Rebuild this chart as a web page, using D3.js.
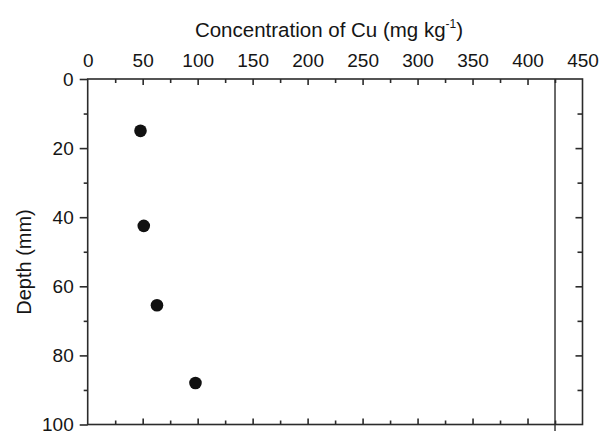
<!DOCTYPE html>
<html>
<head>
<meta charset="utf-8">
<script src="https://cdn.jsdelivr.net/npm/d3@7"></script>
<style>
  html, body { margin: 0; padding: 0; background: #fff; }
  svg { display: block; }
  text { font-family: "Liberation Sans", Arial, Helvetica, sans-serif; fill: #151515; }
</style>
</head>
<body>
<svg id="chart" width="600" height="431"></svg>
<script>
// Cu concentration profile with depth
const depths = [15, 42.5, 65.5, 88];          // mm
const concentrations = [48, 51, 63, 98];      // mg kg-1
const limitValue = 425;                       // vertical reference line, mg kg-1

const xTicks = [0, 50, 100, 150, 200, 250, 300, 350, 400, 450];
const yTicks = [0, 20, 40, 60, 80, 100];
const xMinorTicks = d3.range(25, 450, 50);
const yMinorTicks = d3.range(10, 100, 20);

const W = 600, H = 431;
const margin = { left: 87.7, right: W - 582.5, top: 79, bottom: H - 424.5 };

const svg = d3.select("#chart");
const x = d3.scaleLinear().domain([0, 450]).range([margin.left, W - margin.right]);
const y = d3.scaleLinear().domain([0, 100]).range([margin.top, H - margin.bottom]);

const axisColor = "#2b2b2b";
const fontSize = 19;

function styleAxis(g) {
  g.select(".domain").remove();
  g.selectAll(".tick line").attr("stroke", axisColor).attr("stroke-width", 1.6);
  g.selectAll(".tick text").attr("font-size", fontSize).attr("fill", "#151515")
    .attr("font-family", '"Liberation Sans", Arial, sans-serif');
}

// Top axis: labels above, ticks pointing into the plot
const topAxis = svg.append("g").attr("transform", `translate(0,${y(0)})`)
  .call(d3.axisTop(x).tickValues(xTicks).tickSize(-6).tickPadding(12.5).tickFormat(d3.format("d")));
styleAxis(topAxis);
topAxis.selectAll(".tick line").filter(d => d === 0 || d === 450).remove();
svg.append("g").attr("transform", `translate(0,${y(0)})`)
  .call(d3.axisTop(x).tickValues(xMinorTicks).tickSize(-4).tickFormat(""))
  .call(styleAxis);

// Bottom axis: ticks pointing up, no labels
svg.append("g").attr("transform", `translate(0,${y(100)})`)
  .call(d3.axisBottom(x).tickValues(xTicks.filter(d => d > 0 && d < 450)).tickSize(-6).tickFormat(""))
  .call(styleAxis);
svg.append("g").attr("transform", `translate(0,${y(100)})`)
  .call(d3.axisBottom(x).tickValues(xMinorTicks).tickSize(-4).tickFormat(""))
  .call(styleAxis);

// Left axis: labelled, ticks pointing outward
svg.append("g").attr("transform", `translate(${x(0)},0)`)
  .call(d3.axisLeft(y).tickValues(yTicks).tickSize(8).tickPadding(6).tickFormat(d3.format("d")))
  .call(styleAxis);
svg.append("g").attr("transform", `translate(${x(0)},0)`)
  .call(d3.axisLeft(y).tickValues(yMinorTicks).tickSize(4).tickFormat(""))
  .call(styleAxis);

// Right axis: ticks pointing inward
svg.append("g").attr("transform", `translate(${x(450)},0)`)
  .call(d3.axisRight(y).tickValues(yTicks.filter(d => d > 0 && d < 100)).tickSize(-7).tickFormat(""))
  .call(styleAxis);
svg.append("g").attr("transform", `translate(${x(450)},0)`)
  .call(d3.axisRight(y).tickValues(yMinorTicks).tickSize(-5).tickFormat(""))
  .call(styleAxis);

// Plot frame
svg.append("rect")
  .attr("x", x(0)).attr("y", y(0))
  .attr("width", x(450) - x(0)).attr("height", y(100) - y(0))
  .attr("fill", "none").attr("stroke", axisColor).attr("stroke-width", 1.6);

// Vertical reference line
svg.append("line")
  .attr("x1", x(limitValue)).attr("x2", x(limitValue))
  .attr("y1", y(0)).attr("y2", H)
  .attr("stroke", axisColor).attr("stroke-width", 1.4);

// Data points
const data = depths.map((d, i) => ({ depth: d, conc: concentrations[i] }));
svg.append("g").selectAll("circle").data(data).join("circle")
  .attr("cx", d => x(d.conc))
  .attr("cy", d => y(d.depth))
  .attr("r", 6.3)
  .attr("fill", "#111");

// Axis titles
const title = svg.append("text")
  .attr("x", 329).attr("y", 36.5)
  .attr("text-anchor", "middle")
  .attr("font-size", 20.5);
title.append("tspan").text("Concentration of Cu (mg kg");
title.append("tspan").attr("font-size", 12).attr("dy", -9).text("-1");
title.append("tspan").attr("dy", 9).text(")");

svg.append("text")
  .attr("transform", `translate(31,262) rotate(-90)`)
  .attr("text-anchor", "middle")
  .attr("font-size", 20)
  .text("Depth (mm)");
</script>
</body>
</html>
